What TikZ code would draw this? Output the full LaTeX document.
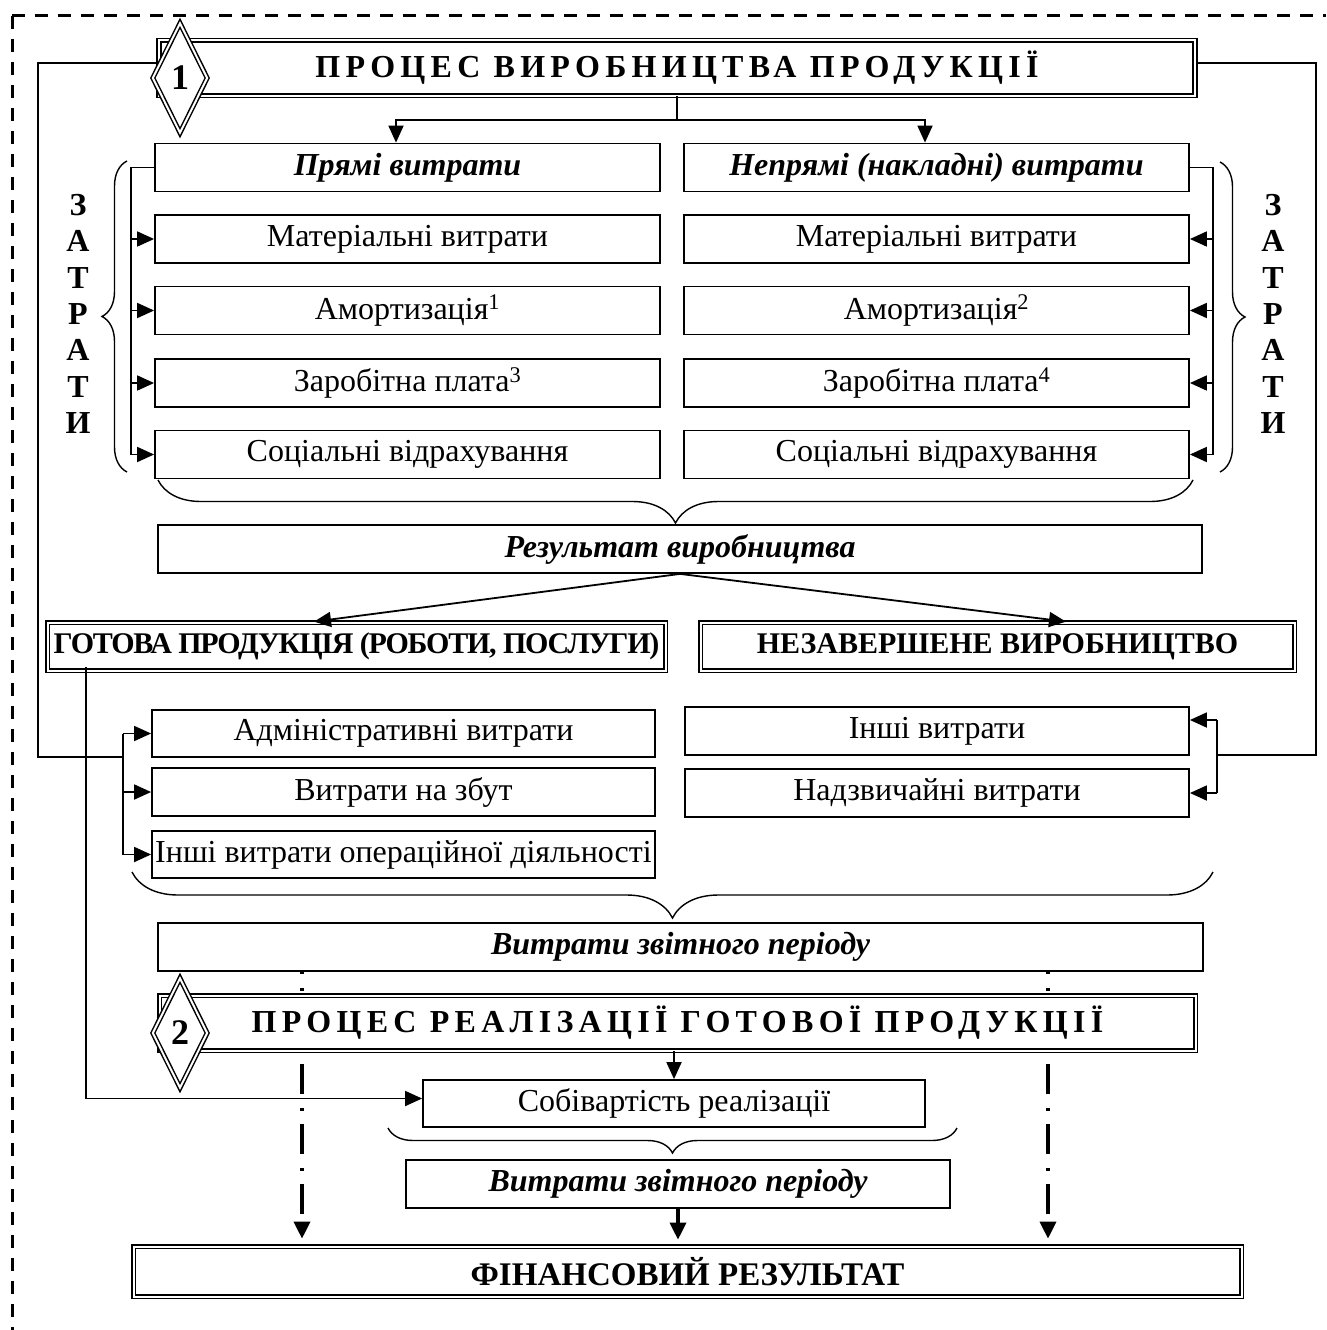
\documentclass[tikz,border=0pt]{standalone}
\usepackage{fontspec}
\setmainfont{Liberation Serif}
\usetikzlibrary{arrows.meta,shapes.geometric,decorations.pathreplacing,calc,backgrounds}
\begin{document}
\begin{tikzpicture}[x=1pt,y=-1pt,
  every node/.style={inner sep=0pt, font=\fontsize{32}{37}\selectfont},
  box/.style={draw, line width=1.8pt, fill=white, minimum width=#1, minimum height=48pt},
  dbox/.style={draw, double, double distance=2pt, line width=1.7pt, fill=white, minimum width=#1, minimum height=48pt},
  bi/.style={font=\fontsize{32}{37}\selectfont\bfseries\itshape},
  bo/.style={font=\fontsize{30}{36}\selectfont\bfseries},
  hd/.style={font=\fontsize{32}{37}\selectfont\bfseries\addfontfeature{LetterSpace=16.5}},
  dia/.style={diamond, draw, double, double distance=2pt, line width=1.5pt, fill=white,
              minimum width=55pt, minimum height=110pt, font=\fontsize{36}{40}\selectfont\bfseries},
  ln/.style={line width=1.8pt},
  arr/.style={line width=1.8pt, -{Triangle[length=17pt,width=15pt]}},
  brc/.style={decorate, decoration={brace, amplitude=#1}, line width=1.4pt},
  dd/.style={line width=3.5pt, dash pattern=on 30pt off 14pt on 3pt off 13pt, dash phase=28pt, -{Triangle[length=17pt,width=16pt]}},
  vt/.style={align=center, font=\fontsize{32}{36.3}\selectfont\bfseries}
]
\useasboundingbox (0,0) rectangle (1326,1330);

% outer dashed frame
\draw[line width=3pt, dash pattern=on 13pt off 10pt] (12,16) -- (1326,16);
\draw[line width=3pt, dash pattern=on 13pt off 10pt] (12,16) -- (12,1330);

% --- nodes ---
\node[dbox=1036pt, minimum height=55pt, hd] (p1) at (677,68) {ПРОЦЕС ВИРОБНИЦТВА ПРОДУКЦІЇ};
\node[dia] (d1) at (180,78) {1};

\node[box=505pt, bi] (pr) at (407.5,167.5) {Прямі витрати};
\node[box=505pt, bi] (np) at (936.5,167.5) {Непрямі (накладні) витрати};

\node[box=505pt] (L1) at (407.5,239) {Матеріальні витрати};
\node[box=505pt] (L2) at (407.5,310.5) {Амортизація\textsuperscript{1}};
\node[box=505pt] (L3) at (407.5,383) {Заробітна плата\textsuperscript{3}};
\node[box=505pt] (L4) at (407.5,454.5) {Соціальні відрахування};

\node[box=505pt] (R1) at (936.5,239) {Матеріальні витрати};
\node[box=505pt] (R2) at (936.5,310.5) {Амортизація\textsuperscript{2}};
\node[box=505pt] (R3) at (936.5,383) {Заробітна плата\textsuperscript{4}};
\node[box=505pt] (R4) at (936.5,454.5) {Соціальні відрахування};

\node[vt] (zl) at (78,314) {З\\А\\Т\\Р\\А\\Т\\И};
\node[vt] (zr) at (1273,314) {З\\А\\Т\\Р\\А\\Т\\И};

\node[box=1044pt, bi] (res) at (680,549) {Результат виробництва};

\node[dbox=618pt, font=\fontsize{30}{36}\selectfont\bfseries\addfontfeature{LetterSpace=-4}] (gp) at (356.5,646.5) {ГОТОВА ПРОДУКЦІЯ (РОБОТИ, ПОСЛУГИ)};
\node[dbox=594pt, bo] (nz) at (997.5,646.5) {НЕЗАВЕРШЕНЕ ВИРОБНИЦТВО};

\node[box=503pt, minimum height=47pt] (adm) at (403.5,733.5) {Адміністративні витрати};
\node[box=503pt] (zb) at (403.5,792) {Витрати на збут};
\node[box=503pt, minimum height=47pt] (io) at (403.5,854.5) {Інші витрати операційної діяльності};

\node[box=504pt] (ins) at (937,731) {Інші витрати};
\node[box=504pt] (nd) at (937,793) {Надзвичайні витрати};

\node[box=1045pt, bi] (vz1) at (680.5,947) {Витрати звітного періоду};

\node[dbox=1036pt, minimum height=55pt, hd] (p2) at (677.5,1023) {ПРОЦЕС РЕАЛІЗАЦІЇ ГОТОВОЇ ПРОДУКЦІЇ};
\node[dia] (d2) at (180,1033) {2};

\node[box=502pt, minimum height=47pt] (sob) at (674,1103.5) {Собівартість реалізації};
\node[box=544pt, bi] (vz2) at (678,1184) {Витрати звітного періоду};
\node[dbox=1108pt, minimum height=50pt, font=\fontsize{33}{38}\selectfont\bfseries] (fin) at (687.5,1271.5) {ФІНАНСОВИЙ РЕЗУЛЬТАТ};

% helper coordinates
\coordinate (sp) at (677,120);
\coordinate (xa) at (396,0);
\coordinate (xb) at (925,0);
\coordinate (bxl) at (131,0);
\coordinate (bxr) at (1213,0);
\coordinate (ga) at (314,0);
\coordinate (na) at (1066,0);
\coordinate (lj) at (123,757);
\coordinate (bxa) at (123,0);
\coordinate (rj) at (1217,755);
\coordinate (bxc) at (1217,0);
\coordinate (gx) at (86,0);
\coordinate (dl) at (302,0);
\coordinate (dr) at (1048,0);

\begin{scope}[on background layer]
% loops from the top process box
\draw[ln] ($(p1.west)+(0,-5)$) -- ++(-120,0) |- (lj);
\draw[ln] ($(p1.east)+(0,-5)$) -- ++(120,0) |- (rj);
% dash-dot arrows to the financial result
\draw[dd, shorten >=7pt] (vz1.south -| dl) -- (fin.north -| dl);
\draw[dd, shorten >=7pt] (vz1.south -| dr) -- (fin.north -| dr);
\draw[dd, dash pattern=on 14pt off 6pt, dash phase=0pt, shorten >=6pt] (vz2.south) -- (vz2.south |- fin.north);
\end{scope}

% top split
\draw[ln] (p1.south) -- (sp);
\draw[arr] (sp) -| (pr.north -| xa);
\draw[arr] (sp) -| (np.north -| xb);

% left bracket
\draw[ln] (pr.west) -- (pr.west -| bxl) -- (L4.west -| bxl);
\foreach \n in {L1,L2,L3,L4} \draw[arr] (\n.west -| bxl) -- (\n.west);
% right bracket
\draw[ln] (np.east) -- (np.east -| bxr) -- (R4.east -| bxr);
\foreach \n in {R1,R2,R3,R4} \draw[arr] (\n.east -| bxr) -- (\n.east);

% braces
\draw[brc=25pt] (127,472) -- (127,161);
\draw[brc=25pt] (1220,162) -- (1220,472);
\draw[brc=43pt] (1193,480) -- (158,480);
\draw[brc=46pt] (1213,872) -- (132,872);
\draw[brc=25pt] (957,1128) -- (388,1128);

% result arrows
\draw[arr] (res.south) -- (gp.north -| ga);
\draw[arr] (res.south) -- (nz.north -| na);

% lower-left branch
\draw[ln] (adm.west -| bxa) -- (io.west -| bxa);
\foreach \n in {adm,zb,io} \draw[arr] (\n.west -| bxa) -- (\n.west);

% lower-right branch
\draw[ln] ($(ins.east -| bxc)+(0,-11)$) -- (nd.east -| bxc);
\draw[arr] ($(ins.east -| bxc)+(0,-11)$) -- ($(ins.east)+(0,-11)$);
\draw[arr] (nd.east -| bxc) -- (nd.east);

% finished goods -> cost of sales
\draw[arr] ($(gp.south -| gx)+(0,-4)$) |- ($(sob.west)+(0,-5)$);
\draw[arr] (p2.south -| sob.north) -- (sob.north);
\end{tikzpicture}
\end{document}
